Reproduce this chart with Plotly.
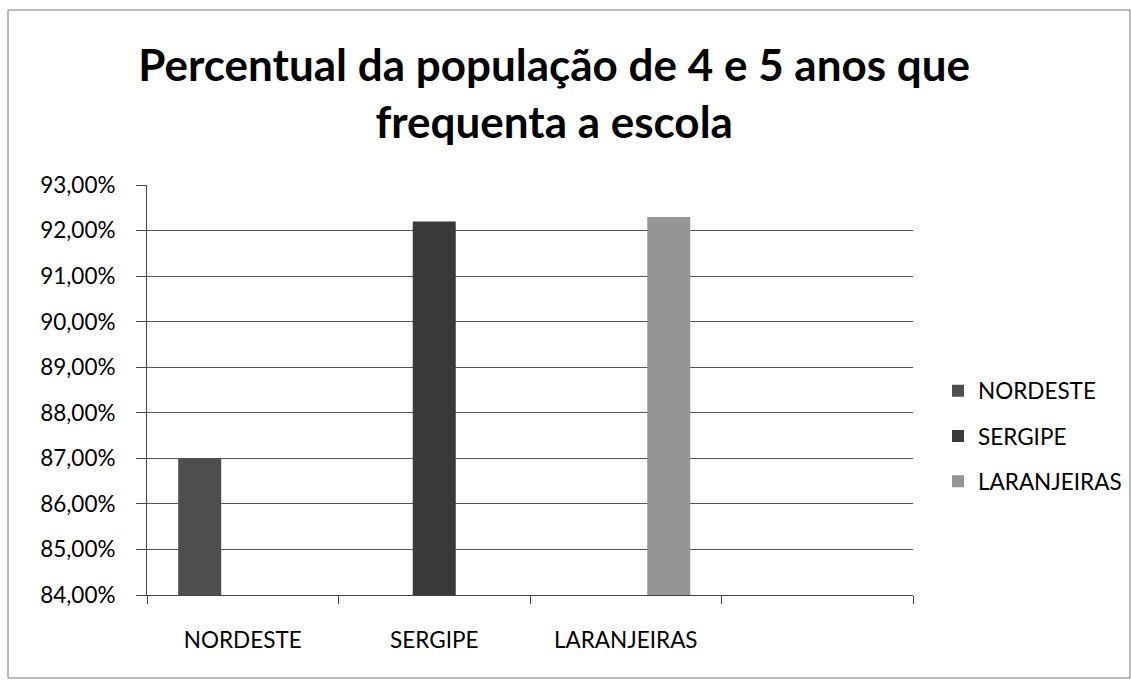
import plotly.graph_objects as go

# ---- data ----
categories = ["NORDESTE", "SERGIPE", "LARANJEIRAS", " "]
series_names = ["NORDESTE", "SERGIPE", "LARANJEIRAS"]
nordeste = [87.0, None, None, None]
sergipe = [None, 92.2, None, None]
laranjeiras = [None, None, 92.3, None]
ytick_vals = [84, 85, 86, 87, 88, 89, 90, 91, 92, 93]
ytick_text = ["84,00%", "85,00%", "86,00%", "87,00%", "88,00%",
              "89,00%", "90,00%", "91,00%", "92,00%", "93,00%"]
title_text = "Percentual da população de 4 e 5 anos que<br>frequenta a escola"

colors = ["#4e4e4e", "#3a3a3a", "#959595"]
W, H = 1131, 680
L, R, T, B = 147, 913, 185, 595

fig = go.Figure()
for name, vals, col, grp in zip(series_names, [nordeste, sergipe, laranjeiras], colors, ["a", "b", "c"]):
    fig.add_trace(go.Bar(x=categories, y=vals, name=name, marker_color=col,
                         marker_line_width=0, legendgroup=grp))

fig.update_layout(
    width=W, height=H,
    margin=dict(l=L, r=W - R, t=T, b=H - B),
    paper_bgcolor="white", plot_bgcolor="white",
    barmode="group", bargap=0.326, bargroupgap=0,
    font=dict(family="Lato", color="black", size=22),
    title=dict(text=title_text, x=0.49, xanchor="center", xref="container",
               y=1 - 81 / H, yanchor="middle", yref="container",
               font=dict(family="Lato", size=44, weight="bold", color="black")),
    legend=dict(x=938 / W, xanchor="left", xref="container",
                y=1 - 436 / H, yanchor="middle", yref="container",
                font=dict(size=22.5), itemwidth=30, tracegroupgap=13,
                bgcolor="rgba(0,0,0,0)"),
    xaxis=dict(type="category", categoryorder="array", categoryarray=categories,
               range=[-0.5, 3.5], tickson="boundaries", ticks="outside",
               ticklen=8, tickcolor="#444", showline=True, linecolor="#444",
               linewidth=1, showgrid=False, ticklabelstandoff=25,
               tickfont=dict(size=22.5)),
    yaxis=dict(range=[84, 93], tickvals=ytick_vals, ticktext=ytick_text,
               ticks="outside", ticklen=10, tickcolor="#444", showline=True,
               linecolor="#444", linewidth=1, showgrid=True, gridcolor="#555",
               gridwidth=1, zeroline=False, ticklabelstandoff=16,
               tickfont=dict(size=22.5)),
)

# chart border (scan frame)
fig.add_shape(type="rect", xref="paper", yref="paper",
              x0=(8 - L) / (R - L), x1=(1130 - L) / (R - L),
              y0=(B - 678) / (B - T), y1=(B - 10) / (B - T),
              line=dict(color="#777", width=1), layer="below")

fig.write_html("out.html", config={"displayModeBar": False},
               post_script="document.body.style.margin='0';")
